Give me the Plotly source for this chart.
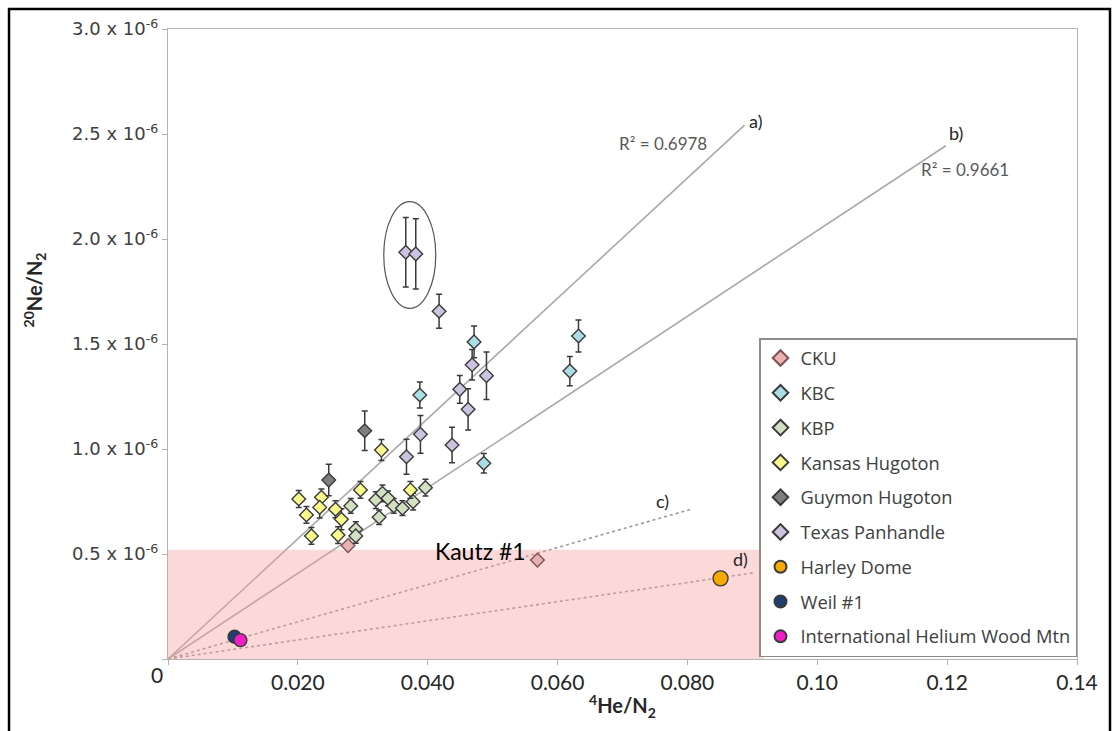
import plotly.graph_objects as go

# ---------------- data (x = 4He/N2, y = 20Ne/N2 in units of 1e-6) ----------------
cku_x = [0.02773, 0.0569]
cku_y = [0.540, 0.471]

kbc_x = [0.04714, 0.03878, 0.04864, 0.06322, 0.06189]
kbc_y = [1.510, 1.257, 0.932, 1.538, 1.371]
kbc_err = [0.076, 0.062, 0.046, 0.076, 0.070]

kbp_x = [0.03965, 0.02815, 0.03200, 0.03303, 0.03389, 0.03477, 0.03611, 0.03775, 0.03251, 0.02892, 0.02892]
kbp_y = [0.816, 0.729, 0.757, 0.789, 0.765, 0.729, 0.718, 0.749, 0.675, 0.618, 0.586]
kbp_err = [0.040, 0.035, 0.040, 0.040, 0.035, 0.035, 0.035, 0.040, 0.035, 0.035, 0.035]

kh_x = [0.03287, 0.02014, 0.02363, 0.02337, 0.02579, 0.02132, 0.02671, 0.02209, 0.02619, 0.02964, 0.03734]
kh_y = [0.995, 0.762, 0.770, 0.722, 0.713, 0.686, 0.665, 0.586, 0.590, 0.805, 0.805]
kh_err = [0.050, 0.040, 0.040, 0.050, 0.040, 0.040, 0.050, 0.040, 0.040, 0.040, 0.040]

gh_x = [0.03030, 0.02476]
gh_y = [1.087, 0.852]
gh_err = [0.094, 0.075]

tp_x = [0.03662, 0.03816, 0.04175, 0.04684, 0.04905, 0.04494, 0.04622, 0.03888, 0.04375, 0.03673]
tp_y = [1.937, 1.929, 1.656, 1.401, 1.349, 1.284, 1.189, 1.070, 1.019, 0.963]
tp_err = [0.165, 0.167, 0.081, 0.073, 0.113, 0.066, 0.098, 0.090, 0.085, 0.083]

hd_x = [0.0851]
hd_y = [0.384]
weil_x = [0.01025]
weil_y = [0.106]
ih_x = [0.01115]
ih_y = [0.090]

# trend lines through origin: slope (1e-6 per unit) and end x
line_names = ["a)", "b)", "c)", "d)"]
line_slopes = [28.63, 20.40, 8.85, 4.55]
line_ends = [0.0888, 0.1198, 0.0807, 0.0901]
line_r2 = ["R\u00b2 = 0.6978", "R\u00b2 = 0.9661", "", ""]

# shaded zone and ellipse bounds
zone_x1 = 0.0918
zone_y1 = 0.52
ell_x = [0.03323, 0.04124]
ell_y = [1.670, 2.178]

x_ticks = [0, 0.02, 0.04, 0.06, 0.08, 0.10, 0.12, 0.14]
x_tick_text = ["", "0.020", "0.040", "0.060", "0.080", "0.10", "0.12", "0.14"]
y_ticks = [0, 0.5, 1.0, 1.5, 2.0, 2.5, 3.0]
y_tick_text = [""] + ["%.1f x 10<sup>-6</sup>" % v for v in y_ticks[1:]]

# ---------------- figure ----------------
fig = go.Figure()

LINE_GRAY = "#a9a9a9"
for i, name in enumerate(line_names):
    dotted = i >= 2
    fig.add_trace(go.Scatter(
        x=[0, line_ends[i]], y=[0, line_slopes[i] * line_ends[i]],
        mode="lines", showlegend=False, hoverinfo="skip",
        line=dict(color="#9a9a9a" if dotted else LINE_GRAY, width=1.6,
                  dash="dot" if dotted else "solid")))

# pink zone drawn above the lines, below the markers
fig.add_trace(go.Scatter(
    x=[0, zone_x1, zone_x1, 0, 0], y=[0, 0, zone_y1, zone_y1, 0],
    mode="lines", fill="toself", fillcolor="rgba(244,160,160,0.40)",
    line=dict(width=0), showlegend=False, hoverinfo="skip"))

EDGE = "#3a3a3a"
err_style = dict(type="data", color="#3a3a3a", thickness=1.5, width=3)

def diamonds(name, xs, ys, fill, err=None, edge=EDGE):
    fig.add_trace(go.Scatter(
        x=xs, y=ys, mode="markers", name=name, legendgroup=name,
        marker=dict(symbol="diamond", size=10.5, color=fill,
                    line=dict(color=edge, width=1.4)),
        error_y=dict(array=err, **err_style) if err else None))

def circles(name, xs, ys, fill, size):
    fig.add_trace(go.Scatter(
        x=xs, y=ys, mode="markers", name=name, legendgroup=name,
        marker=dict(symbol="circle", size=size, color=fill,
                    line=dict(color=EDGE, width=1.4))))

diamonds("CKU", cku_x, cku_y, "#e8b2b2", edge="#7d5252")
diamonds("KBC", kbc_x, kbc_y, "#abdde6", kbc_err)
diamonds("KBP", kbp_x, kbp_y, "#d2e1c2", kbp_err)
diamonds("Kansas Hugoton", kh_x, kh_y, "#fafa8c", kh_err)
diamonds("Guymon Hugoton", gh_x, gh_y, "#7f7f7f", gh_err)
diamonds("Texas Panhandle", tp_x, tp_y, "#cbc3df", tp_err)
circles("Harley Dome", hd_x, hd_y, "#f8a800", 15)
circles("Weil #1", weil_x, weil_y, "#1f3f73", 13)
circles("International Helium Wood Mtn", ih_x, ih_y, "#f01ec4", 13)

# ellipse around the two high points
fig.add_shape(type="circle", xref="x", yref="y",
              x0=ell_x[0], x1=ell_x[1], y0=ell_y[0], y1=ell_y[1],
              line=dict(color="#555555", width=1.2))

# outer black frame
fig.add_shape(type="rect", xref="paper", yref="paper",
              x0=-0.1749, x1=1.0363, y0=-0.14, y1=1.0317,
              line=dict(color="black", width=2.5), layer="above")

# line labels
label_pos = [(0.0905, 2.562), (0.1213, 2.505), (0.0762, 0.752), (0.0882, 0.476)]
r2_pos = [(0.0762, 2.457), (0.1227, 2.329)]
for i, name in enumerate(line_names):
    fig.add_annotation(x=label_pos[i][0], y=label_pos[i][1], text=name,
                       xanchor="center", yanchor="middle",
                       showarrow=False, font=dict(family="Lato", size=18, color="#262626"))
for i in range(2):
    fig.add_annotation(x=r2_pos[i][0], y=r2_pos[i][1], text=line_r2[i],
                       xanchor="center", yanchor="middle",
                       showarrow=False, font=dict(family="Lato", size=17, color="#595959"))

fig.add_annotation(x=0.0481, y=0.515, text="Kautz #1", showarrow=False,
                   xanchor="center", yanchor="middle",
                   font=dict(family="Lato", size=23, color="black"))

# origin label and axis titles
fig.add_annotation(xref="paper", yref="paper", x=-0.0123, y=-0.024, text="0",
                   xanchor="center", yanchor="middle",
                   showarrow=False, font=dict(family="Lato", size=21, color="#262626"))
fig.add_annotation(xref="paper", yref="paper", x=0.5, y=-0.074,
                   xanchor="center", yanchor="middle",
                   text="<b><sup>4</sup>He/N<sub>2</sub></b>", showarrow=False,
                   font=dict(family="Lato", size=20, color="#262626"))
fig.add_annotation(xref="paper", yref="paper", x=-0.1467, y=0.586, textangle=-90,
                   xanchor="center", yanchor="middle",
                   text="<b><sup>20</sup>Ne/N<sub>2</sub></b>", showarrow=False,
                   font=dict(family="Lato", size=20, color="#262626"))

fig.update_layout(
    width=1116, height=731,
    margin=dict(l=168, r=39, t=29, b=72),
    paper_bgcolor="white", plot_bgcolor="white",
    showlegend=True,
    legend=dict(x=1, y=0.003, xanchor="right", yanchor="bottom",
                bgcolor="white", bordercolor="#8c8c8c", borderwidth=1.5,
                font=dict(family="Open Sans", size=18.3, color="#404040"),
                itemsizing="constant", tracegroupgap=8, traceorder="grouped",
                itemwidth=30),
    xaxis=dict(range=[0, 0.14], tickvals=x_ticks, ticktext=x_tick_text,
               showgrid=False, zeroline=False, showline=True, mirror=True,
               linecolor="#b3b3b3", linewidth=1.2, ticks="outside", ticklen=5,
               tickcolor="#b3b3b3",
               tickfont=dict(family="Lato", size=21, color="#262626")),
    yaxis=dict(range=[0, 3.0], tickvals=y_ticks, ticktext=y_tick_text,
               showgrid=False, zeroline=False, showline=True, mirror=True,
               linecolor="#b3b3b3", linewidth=1.2, ticks="outside", ticklen=5,
               tickcolor="#b3b3b3",
               tickfont=dict(family="DejaVu Sans", size=18, color="#404040")),
)

fig.write_html("out.html")
